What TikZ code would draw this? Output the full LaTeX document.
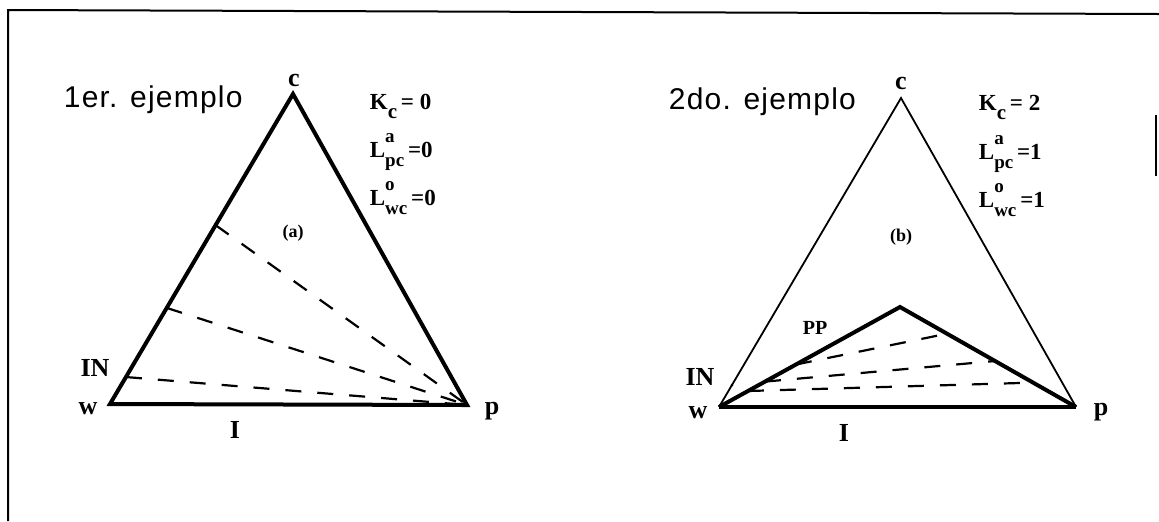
\documentclass[tikz,border=0pt]{standalone}
\usepackage{fontspec}
\setmainfont{Liberation Serif}
\newfontfamily\titlefont[LetterSpace=4]{Liberation Sans}
\usetikzlibrary{calc}

% coefficient with upper and lower index
\newcommand{\coef}[3]{#1\rlap{\raisebox{0.62em}{\fontsize{9.5}{9.5}\selectfont #2}}\raisebox{-0.42em}{\fontsize{9.5}{9.5}\selectfont #3}}

\tikzset{
  heavyside/.style={line width=2pt, line join=miter},
  lightside/.style={line width=0.9pt},
  tieline/.style={line width=1.1pt, dash pattern=on 8pt off 8pt},
  framerule/.style={line width=1pt},
  vertexlbl/.style={inner sep=0.75pt, font=\bfseries\fontsize{13}{15}\selectfont},
  datalbl/.style={anchor=base west, inner sep=0.75pt, font=\bfseries\fontsize{11.5}{13}\selectfont},
  titlelbl/.style={anchor=base west, inner sep=0.75pt, font=\titlefont\fontsize{15}{17}\selectfont}
}

\begin{document}
\begin{tikzpicture}[x=0.5pt,y=0.5pt,yscale=-1,xscale=1]
\useasboundingbox (0,0) rectangle (1159,521);

%Frame
\draw [framerule] (8,521) -- (8,10) -- (1159,14) ;
\draw [framerule] (1156,115) -- (1156,176) ;

% first example
\coordinate (wA) at (110,404);
\coordinate (cA) at (293,94);
\coordinate (pA) at (467,405);
\coordinate (iA) at ($(wA)!0.35!(pA)$);
\foreach \t/\n in {0.577/1,0.31/2,0.087/3}
  \coordinate (tA\n) at ($(wA)!\t!(cA)$);

%Shape: Triangle
\draw [heavyside] (wA) -- (cA) -- (pA) -- cycle ;
%Dashed Lines
\foreach \n in {1,2,3}
  \draw [tieline] (tA\n) -- (pA) ;
\fill (tA3) circle (1.5) ;
\fill (iA) circle (1.5) ;

% Text Node
\node [titlelbl] (ttlA) at (62,107) {1er. ejemplo};
\node [vertexlbl] (lc1) at (294,80) {c};
\node [vertexlbl] (lw1) at (88,409) {w};
\node [vertexlbl] (lp1) at (492,411) {p};
\node [vertexlbl] (li1) at (235,430) {I};
\node [vertexlbl] (lin1) at (95,368) {IN};
\node [inner sep=0.75pt, font=\bfseries\fontsize{9}{11}\selectfont] (la) at (293,233) {(a)};
\node [datalbl] (kA) at (368,109) {K\raisebox{-0.42em}{\fontsize{10.5}{10.5}\selectfont c}\,= 0};
\node [datalbl] (lapA) at (368,157) {\coef{L}{a}{pc}\,=0};
\node [datalbl] (lowA) at (368,205) {\coef{L}{o}{wc}\,=0};

% second example
\coordinate (wB) at (719,407);
\coordinate (cB) at (901,98);
\coordinate (pB) at (1076,407);
\coordinate (tB) at (900,307);
\coordinate (iB) at ($(wB)!0.35!(pB)$);
\coordinate (nB) at ($(wB)!0.071!(cB)$);
\foreach \s/\e/\n in {0.425/0.267/1,0.254/0.54/2,0.16/0.756/3}{
  \coordinate (sB\n) at ($(wB)!\s!(tB)$);
  \coordinate (eB\n) at ($(tB)!\e!(pB)$);
}

%Shape: Triangle
\draw [lightside] (wB) -- (cB) -- (pB) ;
\draw [heavyside] (wB) -- (pB) ;
%Shape: Inner Region
\draw [heavyside] (wB) -- (tB) -- (pB) ;
%Dashed Lines
\foreach \n in {1,2,3}
  \draw [tieline] (sB\n) -- (eB\n) ;
\fill (nB) circle (1.5) ;
\fill (iB) circle (1.5) ;
\foreach \t in {0.34,0.425,0.59}
  \fill ($(wB)!\t!(tB)$) circle (1.5) ;

% Text Node
\node [titlelbl] (ttlB) at (667,109) {2do. ejemplo};
\node [vertexlbl] (lc2) at (901,83) {c};
\node [vertexlbl] (lw2) at (698,413) {w};
\node [vertexlbl] (lp2) at (1101,412) {p};
\node [vertexlbl] (li2) at (844,433) {I};
\node [vertexlbl] (lin2) at (700,377) {IN};
\node [inner sep=0.75pt, font=\bfseries\fontsize{10}{12}\selectfont] (lpp) at (815,328) {PP};
\node [inner sep=0.75pt, font=\bfseries\fontsize{9}{11}\selectfont] (lb) at (901,237) {(b)};
\node [datalbl] (kB) at (977,110) {K\raisebox{-0.42em}{\fontsize{10.5}{10.5}\selectfont c}\,= 2};
\node [datalbl] (lapB) at (977,159) {\coef{L}{a}{pc}\,=1};
\node [datalbl] (lowB) at (977,207) {\coef{L}{o}{wc}\,=1};

\end{tikzpicture}
\end{document}
